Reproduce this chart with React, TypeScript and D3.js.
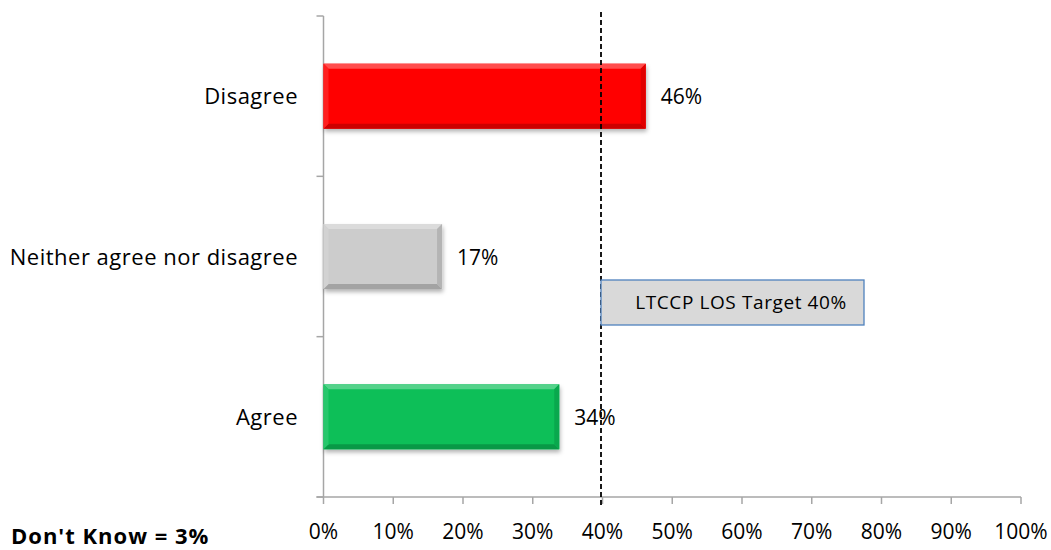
import React from "react";
import * as d3 from "d3";

const categories = ["Disagree", "Neither agree nor disagree", "Agree"];
const values = [46.2, 17, 33.8];
const valueLabels = ["46%", "17%", "34%"];
const colors = ["#ff0000", "#cccccc", "#0abf58"];
const xTicks = [0, 10, 20, 30, 40, 50, 60, 70, 80, 90, 100];
const targetValue = 40;
const targetLabel = "LTCCP LOS Target 40%";
const footnote = "Don't Know = 3%";

function lighten(c: string, k: number) {
  const col = d3.color(c)!.rgb();
  return d3.rgb(col.r + (255 - col.r) * k, col.g + (255 - col.g) * k, col.b + (255 - col.b) * k).toString();
}
function darken(c: string, k: number) {
  const col = d3.color(c)!.rgb();
  return d3.rgb(col.r * (1 - k), col.g * (1 - k), col.b * (1 - k)).toString();
}

export default function App() {
  const W = 1051, H = 550;
  const left = 323.5, right = 1021, top = 16, bottom = 497;
  const x = d3.scaleLinear().domain([0, 100]).range([left, right]);
  const y = d3.scaleBand().domain(categories).range([top, bottom]).paddingInner(0.595).paddingOuter(0.2975);
  const font = "'Open Sans', sans-serif";
  const bevel = 5;
  const yBoundaries = [top, ...categories.map((_, i) => top + (bottom - top) * (i + 1) / categories.length)];

  return (
    <svg width={W} height={H} style={{ position: "absolute", left: 0, top: 0, display: "block" }}>
      <defs>
        <filter id="shadow" x="-5%" y="-20%" width="110%" height="150%">
          <feDropShadow dx="1" dy="3" stdDeviation="2" floodColor="#000" floodOpacity="0.3" />
        </filter>
      </defs>
      <rect width={W} height={H} fill="#fff" />
      {/* axes */}
      <line x1={left} x2={left} y1={top} y2={bottom} stroke="#a6a6a6" strokeWidth={1.5} />
      <line x1={left - 7} x2={right} y1={bottom} y2={bottom} stroke="#a6a6a6" strokeWidth={1.5} />
      {yBoundaries.map((yy, i) => (
        <line key={"yt" + i} x1={left - 7} x2={left} y1={yy} y2={yy} stroke="#a6a6a6" strokeWidth={1.5} />
      ))}
      {xTicks.map((t) => (
        <g key={"xt" + t}>
          <line x1={x(t)} x2={x(t)} y1={bottom} y2={bottom + 7} stroke="#a6a6a6" strokeWidth={1.5} />
          <text x={x(t)} y={539} textAnchor="middle" fontFamily={font} fontSize={21} fill="#000">{t + "%"}</text>
        </g>
      ))}
      {/* bars */}
      {categories.map((c, i) => {
        const x0 = x(0), x1 = x(values[i]);
        const y0 = y(c)!, h = y.bandwidth(), y1 = y0 + h;
        const col = colors[i];
        return (
          <g key={c}>
            <rect x={x0} y={y0} width={x1 - x0} height={h} fill={col} filter="url(#shadow)" />
            <polygon points={`${x0},${y0} ${x1},${y0} ${x1 - bevel},${y0 + bevel} ${x0 + bevel},${y0 + bevel}`} fill={lighten(col, 0.3)} />
            <polygon points={`${x0},${y1} ${x1},${y1} ${x1 - bevel},${y1 - bevel} ${x0 + bevel},${y1 - bevel}`} fill={darken(col, 0.2)} />
            <polygon points={`${x0},${y0} ${x0 + bevel},${y0 + bevel} ${x0 + bevel},${y1 - bevel} ${x0},${y1}`} fill={lighten(col, 0.12)} />
            <polygon points={`${x1},${y0} ${x1 - bevel},${y0 + bevel} ${x1 - bevel},${y1 - bevel} ${x1},${y1}`} fill={darken(col, 0.12)} />
            <text x={x1 + 15} y={y0 + h / 2 + 8} fontFamily={font} fontSize={21} fill="#000">{valueLabels[i]}</text>
            <text x={298} y={y0 + h / 2 + 8} textAnchor="end" fontFamily={font} fontSize={22} letterSpacing={0.5} fill="#000">{c}</text>
          </g>
        );
      })}
      {/* target line */}
      <line x1={x(targetValue) - 1.5} x2={x(targetValue) - 1.5} y1={12} y2={507} stroke="#000" strokeWidth={1.8} strokeDasharray="5,3" />
      <rect x={x(targetValue) - 1.5} y={280} width={263} height={45} fill="#d9d9d9" stroke="#4f81bd" strokeWidth={1.3} />
      <text x={x(targetValue) - 1.5 + 140} y={308.5} textAnchor="middle" fontFamily={font} fontSize={19} letterSpacing={0.6} fill="#000">{targetLabel}</text>
      <text x={11} y={544} fontFamily={font} fontSize={22} fontWeight="bold" letterSpacing={1} fill="#000">{footnote}</text>
    </svg>
  );
}
